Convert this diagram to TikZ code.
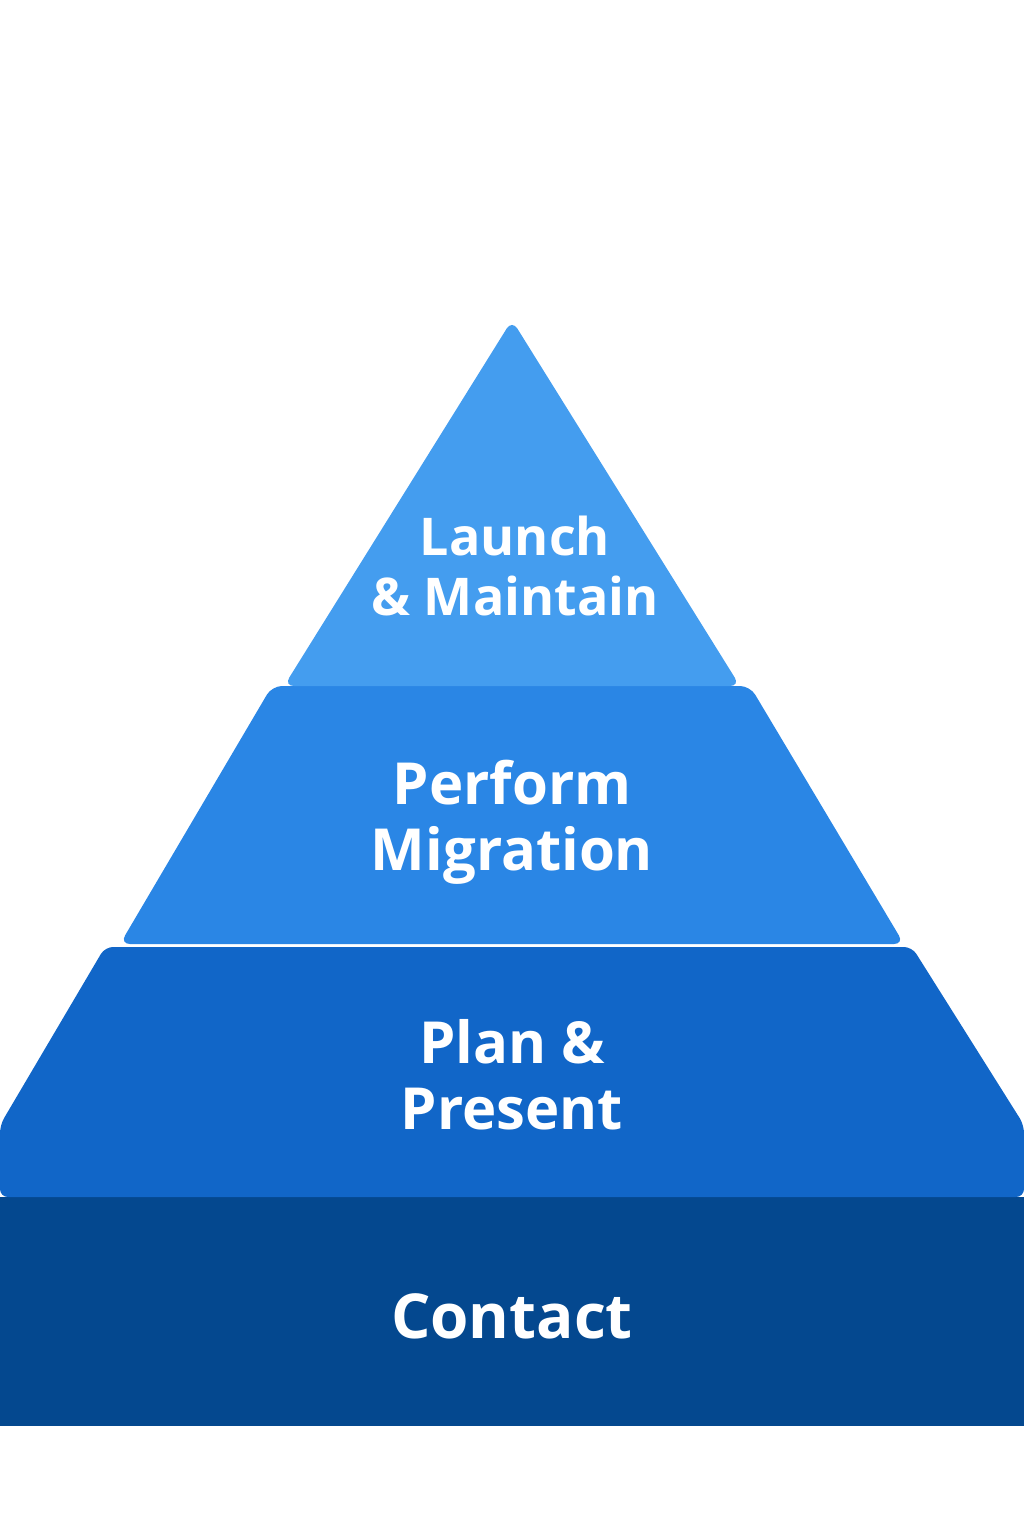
\documentclass[tikz,border=0pt]{standalone}
\usepackage{fontspec}
\setmainfont{Open Sans}
\definecolor{c1}{HTML}{449DEF}
\definecolor{c2}{HTML}{2A86E5}
\definecolor{c3}{HTML}{1166C8}
\definecolor{c4}{HTML}{04488F}
\begin{document}
\begin{tikzpicture}[x=1pt,y=-1pt,
  lbl/.style={text=white,font=\bfseries\fontsize{52}{68}\selectfont,align=center}]
\useasboundingbox (0,0) rectangle (1024,1536);
\fill[c4] (0,1197) rectangle (1024,1426);
\fill[c3,rounded corners=8pt] (0,1197) -- (0,1125) -- (105,947) -- (912,947) -- (1024,1125) -- (1024,1197) -- cycle;
\fill[c2,rounded corners=10pt] (120,944) -- (272,686) -- (750,686) -- (904,944) -- cycle;
\fill[c1,rounded corners=10pt] (284,686) -- (512,320) -- (740,686) -- cycle;
\node[lbl] (t1) at (515,566) {Launch\\[-8pt]\& Maintain};
\node[lbl,font=\bfseries\fontsize{58}{72}\selectfont] (t2) at (512,822) {Perform\\[-6pt]Migration};
\node[lbl,font=\bfseries\fontsize{58}{72}\selectfont] (t3) at (512,1075) {Plan \&\\[-6pt]Present};
\node[lbl,font=\bfseries\fontsize{62}{72}\selectfont] (t4) at (512,1316) {Contact};
\end{tikzpicture}
\end{document}
